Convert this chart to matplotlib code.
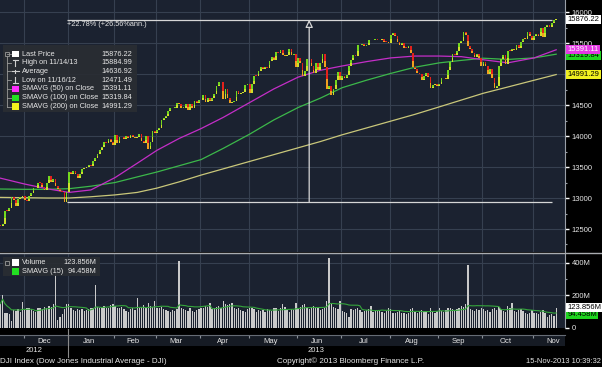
import matplotlib
matplotlib.use("Agg")
import matplotlib.pyplot as plt
from matplotlib.lines import Line2D
from matplotlib.patches import Rectangle
import numpy as np
import pandas as pd

FONT = ['Liberation Sans', 'DejaVu Sans']
plt.rcParams['font.family'] = FONT

# ---------------- data (DJI daily closes, 15-Nov-2012 .. 15-Nov-2013) ----------------
prev_close = 12570.95
nov12 = [12542, 12588, 12796, 12789, 12837, 13010, 12967, 12878, 12985, 13022, 13026]
dec12 = [12966, 12951, 13034, 13074, 13155, 13169, 13248, 13245, 13170, 13135,
         13236, 13351, 13252, 13312, 13191, 13139, 13114, 13096, 12938, 13104]
jan13 = [13412, 13391, 13435, 13385, 13329, 13390, 13471, 13488, 13507, 13535,
         13511, 13596, 13650, 13712, 13780, 13825, 13896, 13881, 13954, 13910, 13861]
feb13 = [14010, 13880, 13979, 13987, 13944, 13993, 13971, 14019, 13982, 13973,
         13981, 14035, 13927, 13881, 14000, 13784, 13900, 14075, 14054]
mar13 = [14090, 14128, 14254, 14296, 14329, 14397, 14448, 14450, 14455, 14539,
         14514, 14452, 14456, 14511, 14421, 14512, 14448, 14560, 14527, 14579]
apr13 = [14573, 14662, 14550, 14606, 14565, 14614, 14673, 14802, 14865, 14865, 14599,
         14757, 14619, 14537, 14548, 14567, 14719, 14676, 14701, 14712, 14819, 14840]
may13 = [14700, 14831, 14974, 14969, 15056, 15106, 15083, 15118, 15092, 15216, 15276,
         15234, 15354, 15335, 15388, 15307, 15295, 15303, 15410, 15302, 15324, 15116]
jun13 = [15255, 15177, 14960, 15041, 15248, 15239, 15123, 15009, 15177, 15071,
         15180, 15318, 15112, 14758, 14800, 14660, 14760, 14910, 15025, 14910]
jul13 = [14975, 14932, 14988, 15136, 15225, 15300, 15291, 15461, 15464, 15485, 15451,
         15471, 15548, 15544, 15545, 15568, 15543, 15556, 15559, 15521, 15520, 15500]
aug13 = [15628, 15659, 15612, 15519, 15471, 15498, 15425, 15419, 15451, 15337, 15112,
         15081, 15010, 15002, 14897, 14963, 15010, 14946, 14776, 14824, 14840, 14810]
sep13 = [14834, 14931, 14937, 14923, 15063, 15191, 15326, 15300, 15376, 15494,
         15529, 15677, 15636, 15452, 15401, 15335, 15274, 15329, 15258, 15130]
oct13 = [15192, 15133, 14996, 15073, 14936, 14777, 14803, 15127, 15238, 15302, 15168, 15374,
         15372, 15400, 15393, 15468, 15413, 15509, 15570, 15569, 15681, 15619, 15546]
nov13 = [15616, 15639, 15618, 15747, 15594, 15762, 15784, 15751, 15822, 15876, 15876.22]

# volume, millions of shares
v_nov12 = [150, 205, 95, 90, 85, 45, 110, 105, 115, 100, 160]
v_dec12 = [110, 120, 125, 115, 105, 100, 125, 120, 115, 130, 120, 135, 130, 145, 340, 50, 70, 85, 115, 150]
v_jan13 = [145, 120, 110, 105, 115, 110, 115, 105, 110, 115, 120, 125, 262, 130, 125, 120, 135, 120, 125, 140, 150]
v_feb13 = [135, 120, 125, 130, 115, 105, 100, 115, 120, 110, 185, 125, 130, 140, 125, 155, 135, 130, 165]
v_mar13 = [125, 120, 130, 115, 110, 105, 100, 110, 105, 115, 414, 120, 115, 110, 105, 120, 105, 100, 110, 115]
v_apr13 = [125, 120, 135, 130, 155, 115, 120, 130, 135, 125, 165, 145, 140, 150, 155, 125, 115, 120, 110, 105, 100, 115]
v_may13 = [125, 120, 115, 100, 110, 105, 110, 100, 115, 110, 105, 120, 125, 105, 120, 145, 130, 115, 100, 115, 110, 155]
v_jun13 = [125, 130, 140, 145, 125, 115, 120, 135, 125, 130, 110, 115, 125, 165, 430, 150, 130, 120, 115, 165]
v_jul13 = [105, 100, 95, 65, 115, 110, 115, 120, 110, 100, 105, 110, 115, 135, 100, 105, 110, 105, 100, 95, 105, 125]
v_aug13 = [115, 90, 95, 100, 105, 95, 90, 85, 95, 115, 125, 100, 95, 105, 110, 105, 100, 85, 120, 100, 95, 105]
v_sep13 = [125, 105, 100, 110, 120, 125, 115, 105, 115, 120, 135, 130, 150, 390, 115, 110, 105, 115, 110, 120]
v_oct13 = [115, 105, 110, 100, 115, 125, 110, 130, 115, 105, 100, 135, 120, 155, 105, 100, 110, 115, 105, 90, 85, 95, 110]
v_nov13 = [90, 95, 85, 100, 110, 95, 70, 80, 85, 75, 123.856]

# moving averages (trading-day index -> value)
ma_idx = [0, 11, 21, 31, 41, 52, 62, 71, 81, 91, 101, 113, 124, 135, 145, 155, 166, 177,
          188, 199, 209, 219, 230, 242, 252]
ma50 = [13320, 13225, 13150, 13090, 13130, 13330, 13560, 13770, 13960, 14120, 14300, 14540,
        14760, 14950, 15060, 15130, 15200, 15260, 15290, 15290, 15280, 15230, 15180, 15260, 15391.11]
ma100 = [13145, 13140, 13140, 13150, 13190, 13250, 13340, 13420, 13520, 13620, 13800, 14030,
         14260, 14460, 14610, 14780, 14900, 15010, 15110, 15180, 15220, 15255, 15235, 15260, 15319.84]
ma200 = [13010, 13005, 13000, 13000, 13020, 13050, 13090, 13160, 13260, 13370, 13470, 13590,
         13700, 13810, 13910, 14020, 14130, 14240, 14350, 14470, 14580, 14690, 14790, 14900, 14991.29]

months = ['Dec', 'Jan', 'Feb', 'Mar', 'Apr', 'May', 'Jun', 'Jul', 'Aug', 'Sep', 'Oct', 'Nov']
month_start = [11, 31, 52, 71, 91, 113, 135, 155, 177, 199, 219, 242]
years = ['2012', '2013']
price_ticks = [12500, 13000, 13500, 14000, 14500, 15000, 15500, 16000]
price_tick_labels = ['12500', '13000', '13500', '14000', '14500', '', '15500', '16000']  # 15000 hidden under tag
vol_ticks = [0, 200, 400]
vol_tick_labels = ['0', '200M', '400M']

legend_labels = ['Last Price', 'High on 11/14/13', 'Average', 'Low on 11/16/12',
                 'SMAVG (50) on Close', 'SMAVG (100) on Close', 'SMAVG (200) on Close']
legend_values = ['15876.22', '15884.99', '14636.92', '12471.49', '15391.11', '15319.84', '14991.29']
vol_labels = ['Volume', 'SMAVG (15)']
vol_values = ['123.856M', '94.458M']

measure_low, measure_high = 12930.0, 15876.22
measure_i0, measure_i1 = 30, 250
measure_text = '+22.78% (+26.56%ann.)'

closes = nov12 + dec12 + jan13 + feb13 + mar13 + apr13 + may13 + jun13 + jul13 + aug13 + sep13 + oct13 + nov13
volumes = (v_nov12 + v_dec12 + v_jan13 + v_feb13 + v_mar13 + v_apr13 + v_may13 + v_jun13 +
           v_jul13 + v_aug13 + v_sep13 + v_oct13 + v_nov13)

# ---------------- figure ----------------
W, H = 602, 367
fig = plt.figure(figsize=(W / 100, H / 100), dpi=100, facecolor='black')


def rect(x0, y0, x1, y1):
    return [x0 / W, 1 - y1 / H, (x1 - x0) / W, (y1 - y0) / H]


def fxy(x, y):
    return x / W, 1 - y / H


PANEL = '#1b2230'
GRID = '#364050'
TXT = '#e6e6e6'
MAG, GRN, YEL = '#c42ec8', '#3cb84a', '#c9c77a'
FS_LEG = 5.3
FS_TICK = 5.5
FS_BOT = 5.8
XL = (-0.2, 256.0)
PW = 565


def px(i):
    return (i - XL[0]) / (XL[1] - XL[0]) * PW


ax = fig.add_axes(rect(0, 0, PW, 252))
axv = fig.add_axes(rect(0, 253, PW, 328))
axd = fig.add_axes(rect(0, 335, PW, 346))

n = len(closes)
idx = np.arange(n)
bounds = np.array(month_start) - 0.5

# ---- price panel ----
ax.set_facecolor(PANEL)
ax.set_xlim(*XL)
ax.set_ylim(12129, 16194)
for lv in price_ticks:
    ax.axhline(lv, color=GRID, lw=0.8, zorder=0)
for b in bounds:
    ax.axvline(b, color=GRID, lw=0.8, zorder=0)

c = np.array(closes, float)
o = np.array([prev_close] + closes[:-1], float)
lo = np.minimum(o, c)
hgt = np.maximum(np.abs(c - o), 10)
up = c >= o
ax.bar(idx, hgt * 0.45, bottom=lo, width=0.8, color=np.where(up, '#cfe02c', '#f2a01f').tolist(), lw=0, zorder=3)
ax.bar(idx, hgt * 0.55, bottom=lo + hgt * 0.45, width=0.8,
       color=np.where(up, '#74d81e', '#e3221c').tolist(), lw=0, zorder=3)

ax.plot(ma_idx, ma200, color=YEL, lw=0.9, zorder=2)
ax.plot(ma_idx, ma100, color=GRN, lw=0.9, zorder=2)
ax.plot(ma_idx, ma50, color=MAG, lw=0.9, zorder=2)

ax.hlines([measure_high, measure_low], measure_i0, measure_i1, color='#d6d6d6', lw=0.9, zorder=4)
mid = (measure_i0 + measure_i1) / 2
ax.annotate('', xy=(mid, measure_high), xytext=(mid, measure_low),
            arrowprops=dict(arrowstyle='-|>,head_length=0.45,head_width=0.22', fc=PANEL,
                            ec='#d6d6d6', lw=0.9, shrinkA=0, shrinkB=0), zorder=4)
ax.text(measure_i0, measure_high - 70, measure_text, color=TXT, fontsize=FS_LEG, ha='left', va='center', zorder=5)

ax.yaxis.tick_right()
ax.set_yticks(price_ticks)
ax.set_yticklabels(price_tick_labels)
ax.set_yticks(np.arange(12250, 16194, 250), minor=True)
ax.tick_params(axis='y', which='major', length=3, width=1, color='white', labelsize=FS_TICK, labelcolor=TXT, pad=2)
ax.tick_params(axis='y', which='minor', length=1.5, width=0.8, color='#9aa0a8')
ax.set_xticks([])
for s in ['top', 'left', 'bottom']:
    ax.spines[s].set_visible(False)
ax.spines['right'].set_color('#9aa0a8')
ax.spines['right'].set_linewidth(0.8)

# ---- volume panel ----
axv.set_facecolor(PANEL)
axv.set_xlim(*XL)
axv.set_ylim(0, 461)
for lv in vol_ticks[1:]:
    axv.axhline(lv, color=GRID, lw=0.8, zorder=0)
for b in bounds:
    axv.axvline(b, color=GRID, lw=0.8, zorder=0)
axv.bar(idx, volumes, width=0.6, color='#cacaca', lw=0, zorder=2)
vsma = pd.Series(volumes).rolling(15, min_periods=1).mean()
axv.plot(idx, vsma, color='#35a53c', lw=0.8, zorder=3)
axv.yaxis.tick_right()
axv.set_yticks(vol_ticks)
axv.set_yticklabels(vol_tick_labels)
axv.set_yticks([100, 300], minor=True)
axv.tick_params(axis='y', which='major', length=3, width=1, color='white', labelsize=FS_TICK, labelcolor=TXT, pad=2)
axv.tick_params(axis='y', which='minor', length=1.5, width=0.8, color='#9aa0a8')
axv.set_xticks([])
for s in ['top', 'left', 'bottom']:
    axv.spines[s].set_visible(False)
axv.spines['right'].set_color('#9aa0a8')
axv.spines['right'].set_linewidth(0.8)

# ---- date band ----
axd.set_facecolor('#161b24')
axd.set_xlim(*XL)
axd.set_ylim(0, 1)
axd.set_xticks([])
axd.set_yticks([])
for s in ['left', 'right', 'bottom']:
    axd.spines[s].set_visible(False)
axd.spines['top'].set_color('#666c75')
axd.spines['top'].set_linewidth(0.8)
ends = list(month_start[1:]) + [n + 9]
for lab, s0, s1 in zip(months, month_start, ends):
    axd.text((s0 + s1) / 2 - 0.5 - 0.8, 0.45, lab, color=TXT, fontsize=FS_TICK, ha='center', va='center')
for b in bounds:
    axd.vlines(b, 0.7, 1.0, color='#8a9098', lw=0.8)

# separator between panels
fig.add_artist(Line2D([0, 1], [1 - 252.5 / H] * 2, color='#a9acb0', lw=1.0, transform=fig.transFigure))
# year separator
jx = px(month_start[1] - 0.5)
fig.add_artist(Line2D([jx / W] * 2, [1 - 329 / H, 1 - 357 / H], color='#8a8a8a', lw=0.8, transform=fig.transFigure))
fig.text(*fxy(jx / 2, 350.5), years[0], color=TXT, fontsize=FS_TICK, ha='center', va='center')
fig.text(*fxy((jx + PW) / 2, 350.5), years[1], color=TXT, fontsize=FS_TICK, ha='center', va='center')

# bottom texts
fig.text(*fxy(0, 361.5), 'DJI Index (Dow Jones Industrial Average - DJI)', color=TXT, fontsize=FS_BOT, ha='left', va='center')
fig.text(*fxy(277, 361.5), 'Copyright\u00a9 2013 Bloomberg Finance L.P.', color=TXT, fontsize=FS_BOT, ha='left', va='center')
fig.text(*fxy(601, 361.5), '15-Nov-2013 10:39:32', color=TXT, fontsize=FS_BOT * 0.93, ha='right', va='center')

# ---- main legend ----
fig.add_artist(Rectangle(fxy(3, 112), 134 / W, 67 / H, transform=fig.transFigure,
                         fc='#2a2d33', ec='none', alpha=0.92))
rows = [54, 62.7, 71.4, 80.2, 89, 97.8, 106.6]
icon_cols = ['white', None, None, None, '#ff2cff', '#22e022', '#f2f21e']
fig.add_artist(Rectangle(fxy(5, 56), 4 / W, 4 / H, transform=fig.transFigure, fc='none', ec='#9a9a9a', lw=0.6))
fig.add_artist(Line2D([7 / W] * 2, [1 - 56 / H, 1 - rows[-1] / H], color='#9a9a9a', lw=0.6, transform=fig.transFigure))
for i, (lab, val, y) in enumerate(zip(legend_labels, legend_values, rows)):
    fig.add_artist(Line2D([7 / W, 11 / W], [1 - y / H] * 2, color='#9a9a9a', lw=0.6, transform=fig.transFigure))
    col = icon_cols[i]
    if col is not None:
        fig.add_artist(Rectangle(fxy(12, y + 3.2), 6.5 / W, 6.5 / H, transform=fig.transFigure, fc=col, ec='none'))
    else:
        cx = 15
        if i == 1:
            segs = [([cx, cx], [y - 3, y + 3]), ([cx - 2.5, cx + 2.5], [y - 3, y - 3])]
        elif i == 2:
            segs = [([cx - 3.5, cx + 3.5], [y, y]), ([cx, cx], [y - 1.5, y + 1.5])]
        else:
            segs = [([cx, cx], [y - 3, y + 3]), ([cx - 2.5, cx + 2.5], [y + 3, y + 3])]
        for xs, ys in segs:
            fig.add_artist(Line2D([v / W for v in xs], [1 - v / H for v in ys], color='#d0d0d0', lw=0.8,
                                  transform=fig.transFigure))
    fig.text(*fxy(22, y), lab, color=TXT, fontsize=FS_LEG, ha='left', va='center')
    fig.text(*fxy(132, y), val, color=TXT, fontsize=FS_LEG, ha='right', va='center')

# ---- volume legend ----
fig.add_artist(Rectangle(fxy(3, 276), 97 / W, 19 / H, transform=fig.transFigure,
                         fc='#2a2d33', ec='none', alpha=0.92))
vrows = [262.5, 271.5]
fig.add_artist(Rectangle(fxy(5, 264.5), 4 / W, 4 / H, transform=fig.transFigure, fc='none', ec='#9a9a9a', lw=0.6))
for lab, val, y, col in zip(vol_labels, vol_values, vrows, ['white', '#22e022']):
    fig.add_artist(Rectangle(fxy(12, y + 3.2), 6.5 / W, 6.5 / H, transform=fig.transFigure, fc=col, ec='none'))
    fig.text(*fxy(22, y), lab, color=TXT, fontsize=FS_LEG, ha='left', va='center')
    fig.text(*fxy(96, y), val, color=TXT, fontsize=FS_LEG, ha='right', va='center')


# ---- right-side value tags ----
def tag(y, s, fc, tc):
    fig.text(*fxy(567.5, y), s, color=tc, fontsize=FS_TICK, ha='left', va='center',
             bbox=dict(boxstyle='square,pad=0.15', fc=fc, ec='none'))


def price_y(p):
    return 252 * (16194 - p) / (16194 - 12129)


def vol_y(v):
    return 253 + 75 * (461 - v) / 461


tag(price_y(15876.22), legend_values[0], 'white', 'black')
tag(price_y(15319.84) + 1.5, legend_values[5], '#1fd41f', 'black')
tag(price_y(15391.11), legend_values[4], '#e43ae4', 'white')
tag(price_y(14991.29), legend_values[6], '#f0f020', 'black')
tag(vol_y(94.458) + 1.5, vol_values[1], '#1fd41f', 'black')
tag(vol_y(123.856), vol_values[0], 'white', 'black')

fig.savefig('out.png', dpi=100, facecolor='black')
